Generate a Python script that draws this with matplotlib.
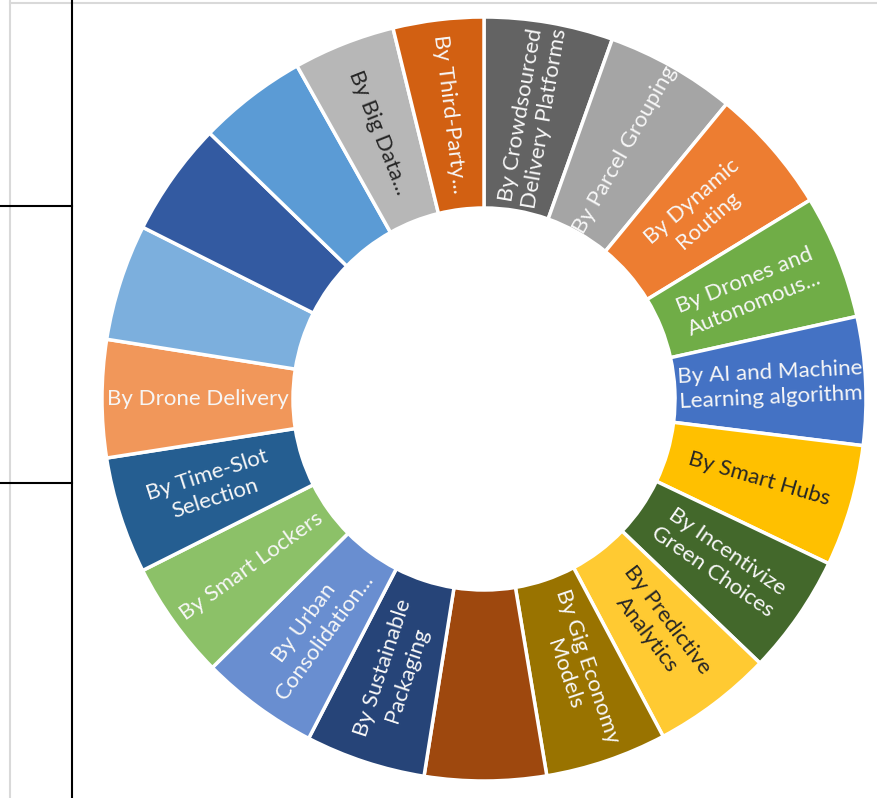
import matplotlib
matplotlib.use("Agg")
import matplotlib.pyplot as plt
from matplotlib.lines import Line2D
import numpy as np

# Segment labels, clockwise from 12 o'clock ("" = unlabelled slice)
labels = [
    "By Crowdsourced\nDelivery Platforms",
    "By Parcel Grouping",
    "By Dynamic\nRouting",
    "By Drones and\nAutonomous...",
    "By AI and Machine\nLearning algorithm",
    "By Smart Hubs",
    "By Incentivize\nGreen Choices",
    "By Predictive\nAnalytics",
    "By Gig Economy\nModels",
    "",
    "By Sustainable\nPackaging",
    "By Urban\nConsolidation...",
    "By Smart Lockers",
    "By Time-Slot\nSelection",
    "By Drone Delivery",
    "",
    "",
    "",
    "By Big Data...",
    "By Third-Party...",
]

# share of each segment (%)
shares = [5.45, 5.5, 5.33, 5.25, 5.42, 5.14, 5.06, 5.08, 5.14, 5.14,
          5.08, 5.0, 5.0, 4.94, 4.97, 4.92, 4.83, 4.61, 4.31, 3.83]

colors = ["#636363", "#A5A5A5", "#ED7D31", "#70AD47", "#4472C4",
          "#FFC000", "#43682B", "#FFCA32", "#997300", "#9E480E",
          "#264478", "#698ED0", "#8CC168", "#255E91", "#F1975A",
          "#7CAFDD", "#335AA1", "#5B9BD5", "#B7B7B7", "#D26012"]

dark_text = {"By Smart Hubs", "By Predictive\nAnalytics", "By Big Data..."}

W, H = 877, 798
fig = plt.figure(figsize=(W / 100, H / 100), dpi=100)
fig.patch.set_facecolor("white")

# donut centred at (484, 399) px, outer radius ~382 px
cx, cy, R = 484, 399, 382
ax = fig.add_axes([(cx - R) / W, (H - cy - R) / H, 2 * R / W, 2 * R / H])

wedges, _ = ax.pie(shares, colors=colors, startangle=90, counterclock=False,
                   radius=1.0, wedgeprops=dict(width=0.5, edgecolor="white", linewidth=2.5))
ax.set_xlim(-1, 1)
ax.set_ylim(-1, 1)
ax.axis("off")

for w, lab in zip(wedges, labels):
    if not lab:
        continue
    ang = (w.theta1 + w.theta2) / 2
    r = 0.75
    x = r * np.cos(np.radians(ang))
    y = r * np.sin(np.radians(ang))
    rot = ang % 360
    if 90 < rot < 270:
        rot -= 180
    tc = "#262626" if lab in dark_text else "#F7F7F7"
    ax.text(x, y, lab, rotation=rot, rotation_mode="anchor", ha="center", va="center",
            multialignment="center", fontsize=16, color=tc, family="Lato",
            linespacing=1.3)

# table borders around the chart
fig.add_artist(Line2D([10 / W, 10 / W], [0, 1], color="#D9D9D9", lw=1.5))
fig.add_artist(Line2D([10 / W, 1], [1 - 3 / H, 1 - 3 / H], color="#D9D9D9", lw=1.5))
fig.add_artist(Line2D([72 / W, 72 / W], [0, 1], color="black", lw=1.5))
fig.add_artist(Line2D([0, 72 / W], [1 - 206 / H, 1 - 206 / H], color="black", lw=1.5))
fig.add_artist(Line2D([0, 72 / W], [1 - 483 / H, 1 - 483 / H], color="black", lw=1.5))

fig.savefig("out.png", dpi=100, facecolor="white")
